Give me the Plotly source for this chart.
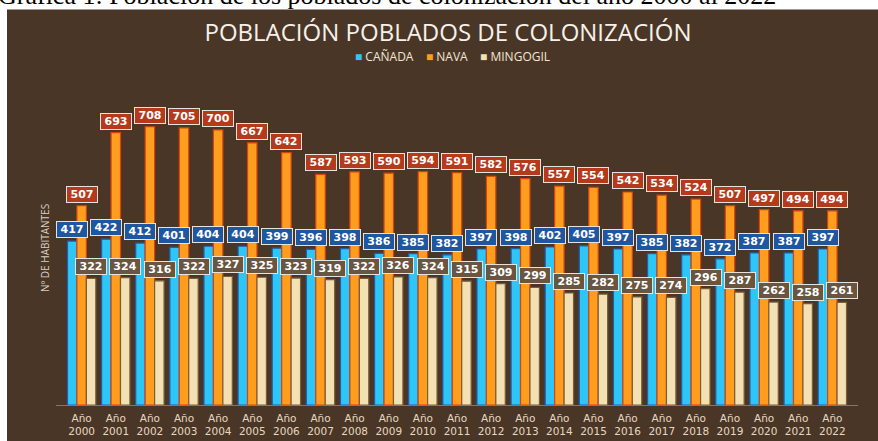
import plotly.graph_objects as go

years = [str(y) for y in range(2000, 2023)]
tick_labels = ["Año<br>" + y for y in years]
canada = [417, 422, 412, 401, 404, 404, 399, 396, 398, 386, 385, 382, 397, 398, 402, 405, 397, 385, 382, 372, 387, 387, 397]
nava = [507, 693, 708, 705, 700, 667, 642, 587, 593, 590, 594, 591, 582, 576, 557, 554, 542, 534, 524, 507, 497, 494, 494]
mingogil = [322, 324, 316, 322, 327, 325, 323, 319, 322, 326, 324, 315, 309, 299, 285, 282, 275, 274, 296, 287, 262, 258, 261]

W, H = 878, 441
ML, MR, MT, MB = 56, 20, 98, 36
PW = W - ML - MR
PH = H - MT - MB
YMAX = PH / 0.393
BARGAP = 0.17

BROWN = "#4a3626"

series = [
    ("CAÑADA", canada, "#2ec6f7", "#1d5fb0", "#1f56a0"),
    ("NAVA", nava, "#ff9d1e", "#d9430f", "#b5391b"),
    ("MINGOGIL", mingogil, "#f3e1b4", "#7a5d3a", "#6a5541"),
]


def py(px):
    """pixel (from top) -> paper y"""
    return (H - MB - px) / PH


def pxx(px):
    return (px - ML) / PW


fig = go.Figure()
for name, vals, fill, edge, _ in series:
    fig.add_trace(go.Bar(
        x=tick_labels, y=vals, name=name,
        marker=dict(color=fill, line=dict(color=edge, width=1.2)),
        hoverinfo="skip",
    ))

spacing = PW / len(years)
bw = spacing * (1 - BARGAP) / 3
annotations = []
for i, (name, vals, fill, edge, boxc) in enumerate(series):
    shift = (i - 1) * bw
    for x, v in zip(tick_labels, vals):
        annotations.append(dict(
            x=x, y=v, xref="x", yref="y", text=str(v), showarrow=False,
            xanchor="center", yanchor="bottom", xshift=shift, yshift=3,
            font=dict(family="DejaVu Sans", size=11, color="white", weight="bold"),
            bgcolor=boxc, bordercolor="#e6e2dc", borderwidth=1, borderpad=1,
            width=28, height=13,
        ))

# y axis title
annotations.append(dict(
    x=pxx(45), y=py(248), xref="paper", yref="paper",
    text="Nº DE HABITANTES", textangle=-90, showarrow=False,
    xanchor="center", yanchor="middle",
    font=dict(family="Open Sans", size=10, color="#d9d0c2"),
))
# custom compact legend
legend_html = "&nbsp;&nbsp;&nbsp;&nbsp;".join(
    f'<span style="color:{fill}">■</span> {name}' for name, _, fill, _, _ in series
)
annotations.append(dict(
    x=pxx(452), y=py(57), xref="paper", yref="paper",
    text=legend_html, showarrow=False, xanchor="center", yanchor="middle",
    font=dict(family="Open Sans", size=12, color="#f0e6d6"),
))
# caption (partly cut off at the top, as in the reference)
annotations.append(dict(
    x=pxx(-4), y=py(12), xref="paper", yref="paper",
    text="Gráfica 1: Población de los poblados de colonización del año 2000 al 2022",
    showarrow=False, xanchor="left", yanchor="bottom",
    font=dict(family="Liberation Serif", size=26, color="black"),
))

shapes = [dict(
    type="rect", xref="paper", yref="paper", layer="below",
    x0=pxx(7), x1=pxx(W + 5),
    y0=py(H + 5), y1=py(9.5),
    fillcolor=BROWN, line=dict(width=0),
)]

fig.update_layout(
    width=W, height=H,
    margin=dict(l=ML, r=MR, t=MT, b=MB, autoexpand=False),
    paper_bgcolor="white", plot_bgcolor="rgba(0,0,0,0)",
    barmode="group", bargap=BARGAP, bargroupgap=0,
    title=dict(
        text="POBLACIÓN POBLADOS DE COLONIZACIÓN",
        x=448 / W, xanchor="center", y=1 - 33 / H, yanchor="middle",
        font=dict(family="Open Sans", size=24, color="#f6f1ea"),
    ),
    showlegend=False,
    xaxis=dict(
        automargin=False,
        showline=True, linecolor="#8a7560", linewidth=1,
        ticks="outside", ticklen=3, tickcolor="rgba(0,0,0,0)",
        tickfont=dict(family="DejaVu Sans", size=10.5, color="#e6d8c0"),
        showgrid=False, zeroline=False, fixedrange=True,
    ),
    yaxis=dict(
        automargin=False,
        range=[0, YMAX], showticklabels=False, showgrid=False, zeroline=False,
        showline=False, ticks="", fixedrange=True,
    ),
    annotations=annotations,
    shapes=shapes,
)

fig.write_html("out.html")
